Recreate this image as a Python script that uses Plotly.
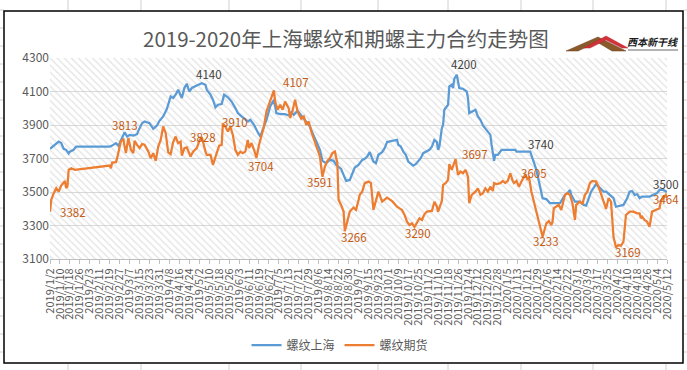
import plotly.graph_objects as go
import pandas as pd

# ---------------- data ----------------
sh_dates = ["2019-01-02","2019-01-09","2019-01-11","2019-01-13","2019-01-15","2019-01-17","2019-01-18","2019-01-21","2019-01-23","2019-02-19","2019-02-21","2019-02-24","2019-02-26","2019-02-28","2019-03-03","2019-03-05","2019-03-07","2019-03-10","2019-03-13","2019-03-14","2019-03-17","2019-03-19","2019-03-23","2019-03-26","2019-03-29","2019-03-31","2019-04-03","2019-04-06","2019-04-09","2019-04-11","2019-04-13","2019-04-15","2019-04-18","2019-04-20","2019-04-22","2019-04-24","2019-04-26","2019-04-30","2019-05-04","2019-05-07","2019-05-08","2019-05-11","2019-05-13","2019-05-15","2019-05-17","2019-05-20","2019-05-22","2019-05-25","2019-05-28","2019-05-31","2019-06-02","2019-06-05","2019-06-08","2019-06-10","2019-06-12","2019-06-15","2019-06-18","2019-06-20","2019-06-22","2019-06-25","2019-06-28","2019-07-01","2019-07-03","2019-07-06","2019-07-10","2019-07-13","2019-07-15","2019-07-17","2019-07-20","2019-07-22","2019-07-25","2019-07-27","2019-07-30","2019-08-01","2019-08-04","2019-08-07","2019-08-09","2019-08-12","2019-08-15","2019-08-18","2019-08-20","2019-08-24","2019-08-26","2019-08-28","2019-08-31","2019-09-03","2019-09-04","2019-09-07","2019-09-10","2019-09-12","2019-09-14","2019-09-16","2019-09-19","2019-09-21","2019-09-23","2019-09-26","2019-09-28","2019-09-30","2019-10-04","2019-10-08","2019-10-09","2019-10-11","2019-10-13","2019-10-15","2019-10-17","2019-10-19","2019-10-21","2019-10-23","2019-10-25","2019-10-27","2019-10-29","2019-11-01","2019-11-03","2019-11-05","2019-11-07","2019-11-09","2019-11-10","2019-11-11","2019-11-13","2019-11-14","2019-11-15","2019-11-18","2019-11-19","2019-11-21","2019-11-22","2019-11-23","2019-11-25","2019-11-27","2019-11-30","2019-12-03","2019-12-04","2019-12-05","2019-12-07","2019-12-10","2019-12-12","2019-12-14","2019-12-16","2019-12-18","2019-12-20","2019-12-22","2019-12-23","2019-12-25","2019-12-26","2019-12-28","2019-12-31","2020-01-11","2020-01-12","2020-01-23","2020-01-28","2020-01-31","2020-02-02","2020-02-05","2020-02-08","2020-02-16","2020-02-20","2020-02-22","2020-02-24","2020-02-25","2020-02-28","2020-03-03","2020-03-06","2020-03-08","2020-03-10","2020-03-12","2020-03-16","2020-03-19","2020-03-22","2020-03-24","2020-03-27","2020-03-30","2020-04-01","2020-04-04","2020-04-07","2020-04-10","2020-04-12","2020-04-14","2020-04-16","2020-04-18","2020-04-20","2020-04-22","2020-04-28","2020-05-01","2020-05-04","2020-05-06","2020-05-09","2020-05-12"]
sh_vals = [3758,3801,3792,3758,3752,3730,3741,3752,3771,3771,3777,3792,3777,3811,3857,3831,3841,3837,3845,3865,3911,3921,3911,3877,3897,3925,3951,3997,4070,4061,4081,4110,4061,4121,4145,4100,4121,4136,4150,4140,4110,4081,4051,4005,4021,4025,4081,4065,4040,4001,3971,3951,3931,3921,3931,3901,3857,3831,3871,3931,4011,4051,3971,3965,3965,3957,3977,3961,3985,3965,3941,3921,3891,3852,3801,3752,3686,3672,3692,3686,3662,3638,3602,3566,3572,3622,3646,3662,3692,3698,3712,3738,3682,3672,3722,3738,3762,3798,3806,3812,3782,3771,3741,3722,3682,3672,3658,3666,3682,3702,3732,3746,3752,3771,3811,3798,3752,3771,3881,3901,3991,4021,4130,4140,4121,4176,4200,4121,4116,4100,4061,3971,3981,3991,3951,3931,3897,3877,3861,3841,3782,3686,3722,3722,3752,3752,3741,3741,3632,3532,3463,3458,3433,3433,3483,3493,3512,3483,3442,3442,3423,3419,3463,3502,3547,3523,3502,3502,3483,3463,3412,3418,3423,3463,3502,3506,3483,3487,3463,3473,3473,3483,3493,3512,3512,3500]

fut_dates = ["2019-01-02","2019-01-03","2019-01-05","2019-01-07","2019-01-09","2019-01-11","2019-01-14","2019-01-15","2019-01-16","2019-01-17","2019-01-19","2019-01-22","2019-02-19","2019-02-20","2019-02-21","2019-02-24","2019-02-25","2019-02-28","2019-03-02","2019-03-04","2019-03-06","2019-03-08","2019-03-10","2019-03-11","2019-03-13","2019-03-15","2019-03-17","2019-03-19","2019-03-22","2019-03-24","2019-03-26","2019-03-28","2019-03-30","2019-04-01","2019-04-03","2019-04-05","2019-04-07","2019-04-09","2019-04-11","2019-04-13","2019-04-15","2019-04-17","2019-04-18","2019-04-20","2019-04-22","2019-04-25","2019-04-27","2019-04-30","2019-05-02","2019-05-04","2019-05-07","2019-05-08","2019-05-11","2019-05-12","2019-05-13","2019-05-16","2019-05-18","2019-05-20","2019-05-21","2019-05-23","2019-05-25","2019-05-27","2019-05-29","2019-05-31","2019-06-02","2019-06-04","2019-06-06","2019-06-08","2019-06-10","2019-06-11","2019-06-13","2019-06-15","2019-06-17","2019-06-19","2019-06-21","2019-06-23","2019-06-25","2019-06-27","2019-06-29","2019-07-01","2019-07-02","2019-07-04","2019-07-06","2019-07-08","2019-07-10","2019-07-13","2019-07-14","2019-07-16","2019-07-18","2019-07-20","2019-07-23","2019-07-25","2019-07-27","2019-07-29","2019-07-31","2019-08-03","2019-08-05","2019-08-07","2019-08-09","2019-08-11","2019-08-13","2019-08-15","2019-08-17","2019-08-19","2019-08-21","2019-08-22","2019-08-24","2019-08-26","2019-08-27","2019-08-29","2019-08-31","2019-09-03","2019-09-05","2019-09-07","2019-09-08","2019-09-10","2019-09-12","2019-09-15","2019-09-17","2019-09-19","2019-09-21","2019-09-23","2019-09-24","2019-09-26","2019-09-30","2019-10-04","2019-10-08","2019-10-12","2019-10-14","2019-10-16","2019-10-18","2019-10-20","2019-10-22","2019-10-24","2019-10-26","2019-10-28","2019-10-30","2019-11-01","2019-11-03","2019-11-05","2019-11-07","2019-11-09","2019-11-10","2019-11-13","2019-11-14","2019-11-16","2019-11-18","2019-11-19","2019-11-21","2019-11-23","2019-11-24","2019-11-26","2019-11-28","2019-11-30","2019-12-02","2019-12-04","2019-12-05","2019-12-07","2019-12-10","2019-12-12","2019-12-14","2019-12-16","2019-12-18","2019-12-20","2019-12-22","2019-12-24","2019-12-25","2019-12-27","2019-12-30","2020-01-01","2020-01-03","2020-01-05","2020-01-07","2020-01-09","2020-01-10","2020-01-12","2020-01-14","2020-01-16","2020-01-19","2020-01-21","2020-01-22","2020-01-24","2020-02-02","2020-02-05","2020-02-07","2020-02-09","2020-02-10","2020-02-11","2020-02-13","2020-02-15","2020-02-17","2020-02-18","2020-02-20","2020-02-22","2020-02-24","2020-02-26","2020-02-28","2020-02-29","2020-03-03","2020-03-05","2020-03-07","2020-03-09","2020-03-11","2020-03-13","2020-03-16","2020-03-18","2020-03-20","2020-03-22","2020-03-24","2020-03-26","2020-03-28","2020-03-30","2020-04-01","2020-04-03","2020-04-05","2020-04-07","2020-04-09","2020-04-12","2020-04-15","2020-04-18","2020-04-20","2020-04-21","2020-04-22","2020-04-24","2020-04-26","2020-04-28","2020-04-30","2020-05-03","2020-05-06","2020-05-07","2020-05-09","2020-05-11","2020-05-12"]
fut_vals = [3382,3453,3493,3523,3502,3538,3566,3523,3532,3632,3642,3632,3658,3642,3676,3678,3702,3805,3813,3732,3822,3752,3732,3805,3781,3762,3786,3782,3742,3702,3732,3686,3771,3811,3891,3851,3738,3726,3798,3831,3792,3801,3717,3762,3766,3712,3741,3762,3805,3828,3741,3722,3722,3692,3662,3732,3777,3781,3910,3891,3861,3891,3841,3752,3722,3741,3732,3741,3811,3762,3792,3752,3704,3781,3831,3891,3981,4021,4061,4107,4040,3991,4021,3991,4040,3997,3941,3985,4051,3981,3937,3951,3901,3921,3861,3801,3752,3712,3591,3652,3686,3702,3732,3741,3672,3453,3423,3383,3266,3323,3383,3407,3393,3450,3483,3502,3553,3562,3553,3393,3442,3502,3483,3442,3466,3446,3412,3393,3363,3323,3303,3313,3290,3313,3343,3333,3367,3383,3383,3387,3442,3412,3383,3446,3542,3553,3572,3666,3632,3672,3697,3602,3622,3612,3632,3592,3433,3483,3502,3522,3483,3493,3522,3502,3532,3506,3553,3547,3553,3566,3553,3566,3612,3566,3553,3566,3532,3562,3605,3572,3592,3502,3233,3313,3327,3303,3323,3403,3412,3423,3393,3423,3483,3493,3483,3433,3333,3423,3442,3427,3483,3502,3553,3566,3562,3532,3483,3442,3399,3463,3442,3233,3169,3183,3179,3203,3363,3383,3383,3373,3373,3343,3353,3333,3323,3293,3383,3393,3403,3446,3463,3483,3464]

series_names = ["螺纹上海", "螺纹期货"]

# data labels
label_series = [0, 1, 1, 1, 1, 1, 1, 1, 1, 1, 0, 1, 0, 1, 1, 1, 0, 1]
label_dates = ["2019-05-04","2019-03-02","2019-01-02","2019-05-04","2019-05-21","2019-06-17","2019-07-01","2019-08-09","2019-08-27","2019-10-22","2019-11-25","2019-11-24","2020-01-23","2020-01-19","2020-02-02","2020-04-01","2020-05-12","2020-05-12"]
label_vals = [4140,3813,3382,3828,3910,3704,4107,3591,3266,3290,4200,3697,3740,3605,3233,3169,3500,3464]

# ---------------- style ----------------
label_shift = [(7,11),(2,15),(23,0),(1,0),(12,1),(4,-8),(22,8),(-2,-5),(9,-6),(4,-6),(7,11),(19,5),(11,8),(9,1),(3,-4),(12,-5),(-1,8),(-1,-1)]
line_colors = ["#5B9BD5", "#ED7D31"]
label_colors = ["#404040", "#C55A11"]
FONT = "Noto Sans CJK SC, Noto Sans, sans-serif"

X0, X1 = "2019-01-02", "2020-05-12"
Y0, Y1 = 3100, 4300

W, H = 687, 370
ML, MR, MT, MB = 50, 20, 58, 111
PW = W - ML - MR
PH = H - MT - MB

def px(x):
    return (x - ML) / PW

def py(y):
    return (H - MB - y) / PH

tick_dates = pd.date_range(X0, X1, freq="8D")
tick_text = [f"{d.year}/{d.month}/{d.day}" for d in tick_dates]

fig = go.Figure()

# hatched plot-area background
fig.add_trace(go.Scatter(
    x=[X0, X1, X1, X0, X0], y=[Y0, Y0, Y1, Y1, Y0],
    mode="none", fill="toself", fillcolor="rgba(0,0,0,0)",
    fillpattern=dict(shape="\\", fgcolor="#C9C9C9", bgcolor="rgba(0,0,0,0)",
                     size=5, solidity=0.28),
    showlegend=False, hoverinfo="skip"))

for name, xs, ys, c in [(series_names[0], sh_dates, sh_vals, line_colors[0]),
                        (series_names[1], fut_dates, fut_vals, line_colors[1])]:
    fig.add_trace(go.Scatter(x=xs, y=ys, mode="lines", name=name,
                             line=dict(color=c, width=2.25)))

for s, d, v, (dx, dy) in zip(label_series, label_dates, label_vals, label_shift):
    fig.add_annotation(x=d, y=v, text=str(v), showarrow=False,
                       xshift=dx, yshift=dy,
                       font=dict(family=FONT, size=11.5, color=label_colors[s]))

# title
fig.add_annotation(xref="paper", yref="paper", x=px(346), y=py(38),
                   text="2019-2020年上海螺纹和期螺主力合约走势图", showarrow=False,
                   xanchor="center", yanchor="middle",
                   font=dict(family=FONT, size=20.5, color="#595959"))

shapes = []
# spreadsheet grid outside the chart
for gx in [68, 141, 229, 301, 378, 448, 521, 593, 666]:
    shapes.append(dict(type="line", xref="paper", yref="paper",
                       x0=px(gx), x1=px(gx), y0=py(0), y1=py(11),
                       line=dict(color="#D0D0D0", width=1)))
    shapes.append(dict(type="line", xref="paper", yref="paper",
                       x0=px(gx), x1=px(gx), y0=py(364), y1=py(370),
                       line=dict(color="#D0D0D0", width=1)))
for gy in range(10, 370, 18):
    shapes.append(dict(type="line", xref="paper", yref="paper",
                       x0=px(0), x1=px(4), y0=py(gy), y1=py(gy),
                       line=dict(color="#D0D0D0", width=1)))
    shapes.append(dict(type="line", xref="paper", yref="paper",
                       x0=px(684), x1=px(687), y0=py(gy), y1=py(gy),
                       line=dict(color="#D0D0D0", width=1)))
# chart frame
shapes.append(dict(type="rect", xref="paper", yref="paper",
                   x0=px(4), x1=px(683), y0=py(363), y1=py(11),
                   line=dict(color="#000000", width=1.5), fillcolor="rgba(0,0,0,0)"))

# logo
def pth(pts):
    return "M " + " L ".join(f"{px(a)},{py(b)}" for a, b in pts) + " Z"
shapes.append(dict(type="path", xref="paper", yref="paper",
                   path=pth([(566, 51), (598, 37), (626, 51), (612, 51), (597, 42), (578, 51)]),
                   fillcolor="#8A5A2B", line=dict(color="#6B3F1A", width=0.5)))
shapes.append(dict(type="path", xref="paper", yref="paper",
                   path=pth([(584, 48), (606, 36), (628, 48), (622, 48), (606, 40), (590, 48)]),
                   fillcolor="#D0343A", line=dict(color="#C02030", width=0.5)))
shapes.append(dict(type="line", xref="paper", yref="paper",
                   x0=px(628), x1=px(678), y0=py(50), y1=py(50),
                   line=dict(color="#9A9A9A", width=1.5)))
fig.add_annotation(xref="paper", yref="paper", x=px(652), y=py(42),
                   text="<b><i>西本新干线</i></b>", showarrow=False,
                   xanchor="center", yanchor="middle",
                   font=dict(family=FONT, size=10, color="#1A1A1A"))

fig.update_layout(
    width=W, height=H,
    margin=dict(l=ML, r=MR, t=MT, b=MB, autoexpand=False),
    paper_bgcolor="white", plot_bgcolor="white",
    font=dict(family=FONT, color="#595959"),
    shapes=shapes,
    showlegend=True,
    legend=dict(orientation="h", x=px(340), xanchor="center", y=py(345), yanchor="middle",
                font=dict(family=FONT, size=12, color="#595959"),
                bgcolor="rgba(0,0,0,0)", itemwidth=30),
    xaxis=dict(type="date", range=[X0, X1], tickmode="array", automargin=False,
               tickvals=list(tick_dates), ticktext=tick_text, tickangle=-90,
               tickfont=dict(family=FONT, size=11, color="#595959"),
               showgrid=False, showline=True, linecolor="#BFBFBF", linewidth=1,
               ticks="outside", ticklen=4, tickcolor="#BFBFBF", zeroline=False),
    yaxis=dict(range=[Y0, Y1], tickmode="linear", tick0=Y0, dtick=200, automargin=False,
               tickfont=dict(family=FONT, size=12, color="#595959"),
               showgrid=True, gridcolor="#D9D9D9", gridwidth=1,
               showline=False, zeroline=False, ticks=""),
)

fig.write_html("out.html", config={"displayModeBar": False},
               post_script="document.body.style.margin='0';document.body.style.padding='0';")
